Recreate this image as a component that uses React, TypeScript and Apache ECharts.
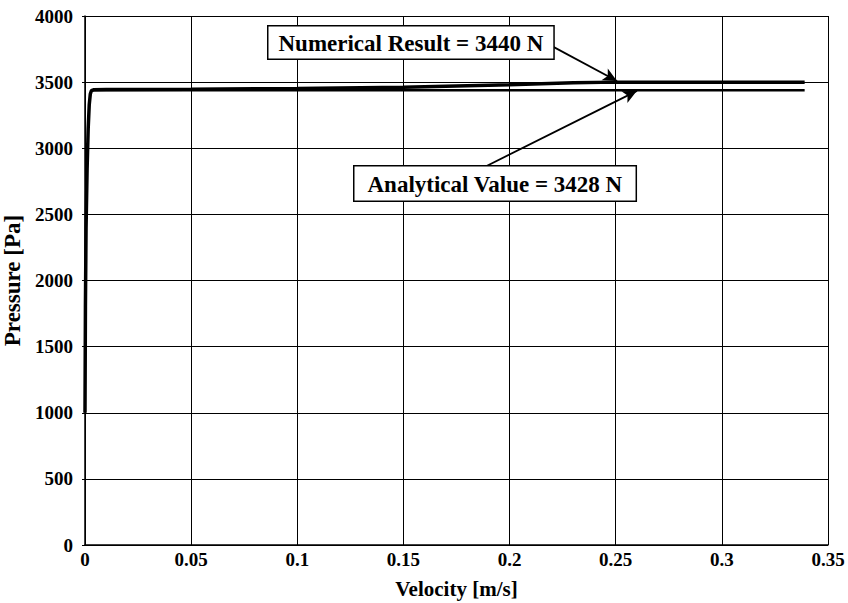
import React, { useEffect, useRef } from "react";
import * as echarts from "echarts";

const numericalVelocity = [0, 0.0002, 0.0005, 0.001, 0.0015, 0.002, 0.0025, 0.003, 0.004, 0.01, 0.05, 0.1, 0.15, 0.2, 0.23, 0.25, 0.3, 0.339];
const numericalPressure = [1000, 1800, 2400, 2850, 3150, 3330, 3410, 3435, 3442, 3444, 3447, 3452, 3462, 3480, 3495, 3500, 3500, 3500];
const analyticalVelocity = [0.003, 0.339];
const analyticalPressure = [3438, 3438];

const numericalLabel = "Numerical Result = 3440 N";
const analyticalLabel = "Analytical Value = 3428 N";
const numericalArrow = [[0.218, 3789], [0.2506, 3509]];
const analyticalArrow = [[0.1894, 2868], [0.26, 3434]];

const FONT = "'Liberation Serif', 'Times New Roman', serif";

export default function App() {
  const ref = useRef<HTMLDivElement>(null);
  useEffect(() => {
    if (!ref.current) return;
    const chart = echarts.init(ref.current, undefined, { renderer: "svg" });
    const numData = numericalVelocity.map((v, i) => [v, numericalPressure[i]]);
    const anaData = analyticalVelocity.map((v, i) => [v, analyticalPressure[i]]);
    const arrowLine = (pts: number[][]) => ({
      silent: true,
      symbol: ["none", "arrow"],
      symbolSize: [10, 14],
      label: { show: false },
      lineStyle: { color: "#000", width: 1.8, type: "solid" },
      data: [[{ coord: pts[0] }, { coord: pts[1] }]],
    });
    chart.setOption({
      animation: false,
      backgroundColor: "#fff",
      textStyle: { fontFamily: FONT },
      grid: { left: 85, right: 20, top: 16, bottom: 58, containLabel: false, outerBoundsMode: "none" },
      xAxis: {
        type: "value",
        min: 0,
        max: 0.35,
        interval: 0.05,
        name: "Velocity [m/s]",
        nameLocation: "middle",
        nameGap: 33,
        nameTextStyle: { fontFamily: FONT, fontWeight: "bold", fontSize: 21, color: "#000" },
        axisLine: { lineStyle: { color: "#000", width: 1.5 } },
        axisTick: { show: false },
        axisLabel: {
          fontFamily: FONT, fontWeight: "bold", fontSize: 19, color: "#000", margin: 5,
          formatter: (v: number) => String(Math.round(v * 100) / 100),
        },
        splitLine: { show: true, lineStyle: { color: "#000", width: 1 } },
      },
      yAxis: {
        type: "value",
        min: 0,
        max: 4000,
        interval: 500,
        name: "Pressure [Pa]",
        nameLocation: "middle",
        nameGap: 58,
        nameTextStyle: { fontFamily: FONT, fontWeight: "bold", fontSize: 23, color: "#000" },
        axisLine: { show: true, lineStyle: { color: "#000", width: 1.5 } },
        axisTick: { show: true, length: 3, lineStyle: { color: "#000" } },
        axisLabel: {
          fontFamily: FONT, fontWeight: "bold", fontSize: 19, color: "#000", margin: 12,
          formatter: (v: number) => String(v),
        },
        splitLine: { show: true, lineStyle: { color: "#000", width: 1 } },
      },
      series: [
        {
          name: "Analytical",
          type: "line",
          data: anaData,
          showSymbol: false,
          lineStyle: { color: "#000", width: 2.5 },
          markLine: arrowLine(analyticalArrow),
          z: 3,
        },
        {
          name: "Numerical",
          type: "line",
          data: numData,
          showSymbol: false,
          smooth: false,
          lineStyle: { color: "#000", width: 3.5 },
          markLine: arrowLine(numericalArrow),
          z: 4,
        },
      ],
      graphic: [
        {
          type: "text",
          left: 267,
          top: 25,
          z: 100,
          style: {
            text: numericalLabel,
            fontFamily: FONT,
            fontWeight: "bold",
            fontSize: 23,
            fill: "#000",
            backgroundColor: "#fff",
            borderColor: "#000",
            borderWidth: 1.5,
            padding: [5, 10, 4, 10],
          },
        },
        {
          type: "text",
          left: 353,
          top: 165,
          z: 100,
          style: {
            text: analyticalLabel,
            fontFamily: FONT,
            fontWeight: "bold",
            fontSize: 23,
            fill: "#000",
            backgroundColor: "#fff",
            borderColor: "#000",
            borderWidth: 1.5,
            padding: [6, 13, 5, 13],
          },
        },
      ],
    });
    return () => chart.dispose();
  }, []);
  return <div ref={ref} style={{ width: 848, height: 603, position: "absolute", left: 0, top: 0 }} />;
}
